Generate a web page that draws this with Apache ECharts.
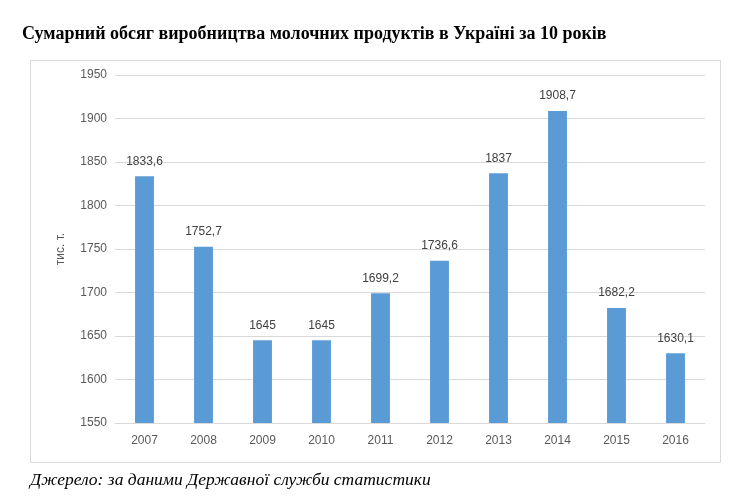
<!DOCTYPE html>
<html><head><meta charset="utf-8">
<script src="https://cdn.jsdelivr.net/npm/echarts@6/dist/echarts.min.js"></script>
<style>body{margin:0;background:#fff}#c{width:746px;height:500px}</style>
</head><body><div id="c"></div>
<script>
const categories=['2007','2008','2009','2010','2011','2012','2013','2014','2015','2016'];
const values=[1833.6,1752.7,1645,1645,1699.2,1736.6,1837,1908.7,1682.2,1630.1];
const yTicks={min:1550,max:1950,interval:50};
const chart=echarts.init(document.getElementById('c'));
chart.setOption({
  animation:false,
  graphic:[
    {type:'rect',shape:{x:30.5,y:60.5,width:690,height:402},style:{fill:'none',stroke:'#d9d9d9',lineWidth:1}},
    {type:'text',left:22,top:25,style:{text:'Сумарний обсяг виробництва молочних продуктів в Україні за 10 років',font:'bold 18px "Liberation Serif"',fill:'#000'}},
    {type:'text',left:30,top:471,style:{text:'Джерело: за даними Державної служби статистики',font:'italic 17.5px "Liberation Serif"',fill:'#000'}}
  ],
  grid:{left:115,right:41,top:75,bottom:77},
  xAxis:{type:'category',data:categories,axisTick:{show:false},axisLine:{lineStyle:{color:'#d9d9d9'}},
    axisLabel:{color:'#595959',fontSize:12,fontFamily:'Liberation Sans',margin:12}},
  yAxis:{type:'value',min:yTicks.min,max:yTicks.max,interval:yTicks.interval,
    name:'тис. т.',nameLocation:'middle',nameGap:48,nameTextStyle:{color:'#595959',fontSize:12,fontFamily:'Liberation Sans'},
    axisLabel:{color:'#595959',fontSize:12,fontFamily:'Liberation Sans',formatter:v=>String(v)},
    splitLine:{lineStyle:{color:'#d9d9d9'}},axisLine:{show:false},axisTick:{show:false}},
  series:[{type:'bar',data:values,barWidth:'32%',itemStyle:{color:'#5b9bd5'},
    label:{show:true,position:'top',distance:9,color:'#404040',fontSize:12,fontFamily:'Liberation Sans',
      formatter:p=>String(p.value).replace('.',',')}}]
});
</script></body></html>
